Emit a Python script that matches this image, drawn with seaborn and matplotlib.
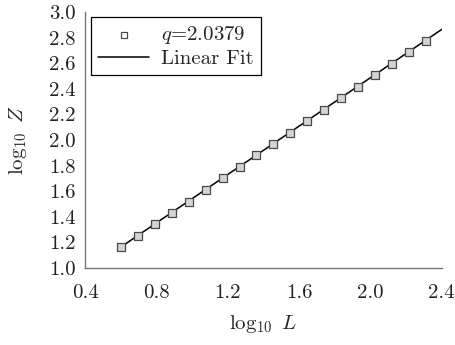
import matplotlib
matplotlib.use("Agg")
import matplotlib.pyplot as plt
import seaborn as sns
import pandas as pd

log_L = [0.602, 0.697, 0.792, 0.887, 0.981, 1.076, 1.171, 1.266, 1.361, 1.456,
         1.551, 1.646, 1.740, 1.835, 1.930, 2.025, 2.120, 2.215, 2.310]
log_Z = [1.166, 1.253, 1.342, 1.431, 1.519, 1.610, 1.700, 1.790, 1.880, 1.969,
         2.059, 2.149, 2.238, 2.328, 2.418, 2.508, 2.597, 2.687, 2.777]
fit_x = [0.60, 2.40]
fit_y = [1.164, 2.865]
x_ticks = [0.4, 0.8, 1.2, 1.6, 2.0, 2.4]
y_ticks = [1.0, 1.2, 1.4, 1.6, 1.8, 2.0, 2.2, 2.4, 2.6, 2.8, 3.0]

sns.set_style("white")
plt.rcParams["font.family"] = ["cmr10"]
plt.rcParams["mathtext.fontset"] = "cm"
plt.rcParams["axes.formatter.use_mathtext"] = True

df = pd.DataFrame({"x": log_L, "y": log_Z})
fit = pd.DataFrame({"x": fit_x, "y": fit_y})

fig = plt.figure(figsize=(4.55, 3.45), dpi=100)
ax = fig.add_axes([0.187, 0.223, 0.784, 0.742])

sns.lineplot(data=fit, x="x", y="y", ax=ax, color="black", linewidth=1.1,
             label="Linear Fit", zorder=2)
sns.scatterplot(data=df, x="x", y="y", ax=ax, marker="s", s=26,
                facecolor="#d4d4d4", edgecolor="#4a4a4a", linewidth=0.9,
                label=r"$q$=2.0379", zorder=3)

ax.set_xlim(0.4, 2.4)
ax.set_ylim(1.0, 3.0)
ax.set_xticks(x_ticks)
ax.set_yticks(y_ticks)
ax.set_xticklabels([f"{v:.1f}" for v in x_ticks])
ax.set_yticklabels([f"{v:.1f}" for v in y_ticks])
ax.tick_params(axis="both", labelsize=15, colors="#222222", length=4, width=0.8)
ax.tick_params(axis="x", direction="inout", length=5, pad=9)
ax.tick_params(axis="y", direction="out", pad=3)

for side in ["top", "right"]:
    ax.spines[side].set_visible(False)
for side in ["left", "bottom"]:
    ax.spines[side].set_color("#777777")
    ax.spines[side].set_linewidth(1.0)

ax.set_xlabel(r"$\log_{10}\ L$", fontsize=15, labelpad=8)
ax.set_ylabel(r"$\log_{10}\ Z$", fontsize=15, labelpad=14)

handles, labels = ax.get_legend_handles_labels()
order = [labels.index(r"$q$=2.0379"), labels.index("Linear Fit")]
leg = ax.legend([handles[i] for i in order], [labels[i] for i in order],
                loc="upper left", bbox_to_anchor=(0.017, 0.98), fontsize=15,
                frameon=True, fancybox=False, edgecolor="black", framealpha=1,
                borderpad=0.35, handlelength=2.45, handletextpad=0.55,
                labelspacing=0.15, markerscale=0.75, borderaxespad=0.0)
leg.get_frame().set_linewidth(0.9)
for h in leg.legend_handles:
    try:
        h.set_facecolor("white")
    except Exception:
        pass

fig.savefig("out.png", dpi=100)
